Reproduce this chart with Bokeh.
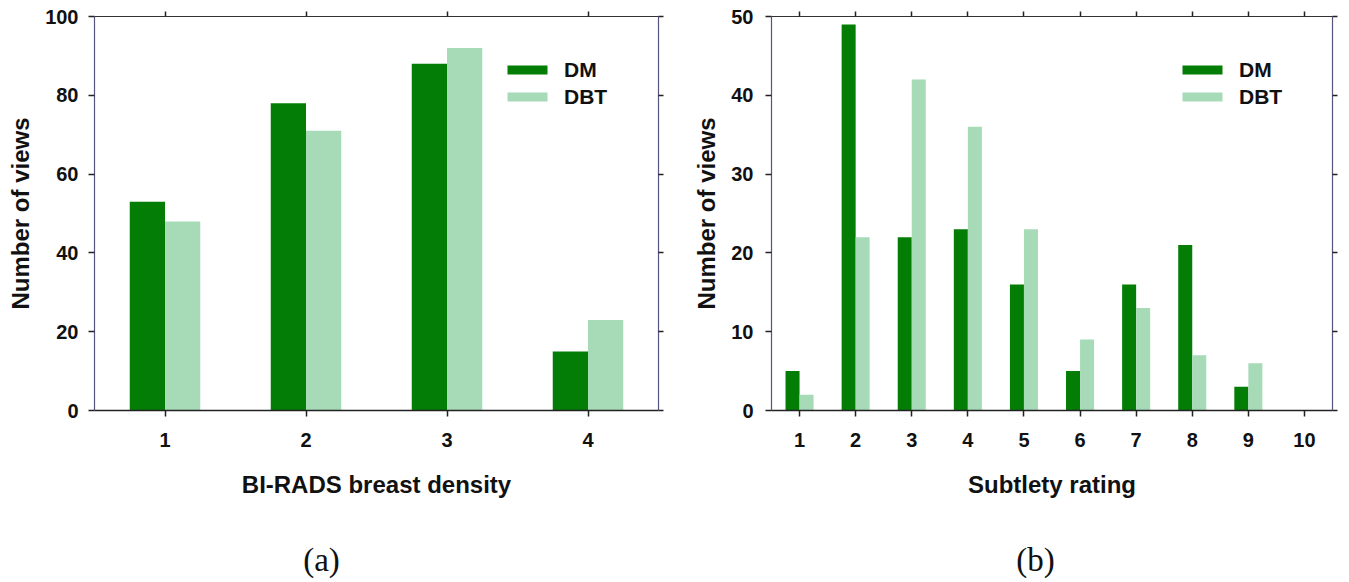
from bokeh.plotting import figure
from bokeh.models import (ColumnDataSource, Range1d, FixedTicker, LinearAxis,
                          Legend, LegendItem, Label, CustomLabelingPolicy)
from bokeh.transform import dodge
from bokeh.layouts import row, column
from bokeh.embed import file_html
from bokeh.resources import INLINE

# ---- data ----
density_cats = [1, 2, 3, 4]
density_dm = [53, 78, 88, 15]
density_dbt = [48, 71, 92, 23]
density_yticks = [0, 20, 40, 60, 80, 100]

subtlety_cats = [1, 2, 3, 4, 5, 6, 7, 8, 9, 10]
subtlety_dm = [5, 49, 22, 23, 16, 5, 16, 21, 3, 0]
subtlety_dbt = [2, 22, 42, 36, 23, 9, 13, 7, 6, 0]
subtlety_yticks = [0, 10, 20, 30, 40, 50]

series_names = ["DM", "DBT"]
captions = ["(a)", "(b)"]
DM_COLOR = "#037d05"
DBT_COLOR = "#a7dbb8"
FONT = "Liberation Sans"
SIDE_COLOR = "#55557f"

NO_LABELS = CustomLabelingPolicy(code="""
for (const i of indices) { indices.unset(i) }
return indices
""")


def tick_only_axis(ticker, line_color):
    return LinearAxis(ticker=ticker, major_label_text_font_size="1px",
                      major_label_policy=NO_LABELS,
                      major_label_standoff=0, major_tick_out=5, major_tick_in=0,
                      minor_tick_out=0, minor_tick_in=0,
                      axis_line_color=line_color, axis_line_width=1.2,
                      major_tick_line_color="#222222", major_tick_line_width=1.5)


def make_panel(cats, dm, dbt, yticks, xlabel, width, left_border,
               right_border, ylabel_standoff, tick_standoff, legend_x):
    src = ColumnDataSource(dict(x=cats, dm=dm, dbt=dbt))
    p = figure(width=width, height=520, output_backend="svg",
               toolbar_location=None,
               x_range=Range1d(cats[0] - 0.5, cats[-1] + 0.5),
               y_range=Range1d(yticks[0], yticks[-1]),
               min_border_left=left_border, min_border_right=right_border,
               min_border_top=16, min_border_bottom=110)
    p.outline_line_color = None
    p.xgrid.visible = False
    p.ygrid.visible = False
    p.background_fill_color = "white"

    r1 = p.vbar(x=dodge("x", -0.125), top="dm", width=0.25, source=src,
                fill_color=DM_COLOR, line_color=None)
    r2 = p.vbar(x=dodge("x", 0.125), top="dbt", width=0.25, source=src,
                fill_color=DBT_COLOR, line_color=None)

    xt = FixedTicker(ticks=cats, minor_ticks=[])
    yt = FixedTicker(ticks=yticks, minor_ticks=[])

    xa = p.xaxis[0]
    xa.ticker = xt
    xa.axis_label = xlabel
    xa.axis_label_text_font = FONT
    xa.axis_label_text_font_style = "bold"
    xa.axis_label_text_font_size = "24px"
    xa.axis_label_text_color = "#111111"
    xa.axis_label_standoff = 21
    xa.major_label_text_font = FONT
    xa.major_label_text_font_style = "bold"
    xa.major_label_text_font_size = "20px"
    xa.major_label_text_color = "#111111"
    xa.major_label_standoff = 16
    xa.major_tick_out = 6
    xa.major_tick_in = 0
    xa.minor_tick_out = 0
    xa.minor_tick_in = 0
    xa.axis_line_color = "#222222"
    xa.axis_line_width = 1.5
    xa.major_tick_line_color = "#222222"
    xa.major_tick_line_width = 1.5

    ya = p.yaxis[0]
    ya.ticker = yt
    ya.axis_label = "Number of views"
    ya.axis_label_text_font = FONT
    ya.axis_label_text_font_style = "bold"
    ya.axis_label_text_font_size = "24px"
    ya.axis_label_text_color = "#111111"
    ya.axis_label_standoff = ylabel_standoff
    ya.major_label_text_font = FONT
    ya.major_label_text_font_style = "bold"
    ya.major_label_text_font_size = "20px"
    ya.major_label_text_color = "#111111"
    ya.major_label_standoff = tick_standoff
    ya.major_tick_out = 6
    ya.major_tick_in = 0
    ya.minor_tick_out = 0
    ya.minor_tick_in = 0
    ya.axis_line_color = SIDE_COLOR
    ya.axis_line_width = 1.2
    ya.major_tick_line_color = "#222222"
    ya.major_tick_line_width = 1.5

    p.add_layout(tick_only_axis(xt, "#333333"), "above")
    p.add_layout(tick_only_axis(yt, SIDE_COLOR), "right")

    legend = Legend(items=[LegendItem(label=series_names[0], renderers=[r1]),
                           LegendItem(label=series_names[1], renderers=[r2])],
                    location=(legend_x, 300), glyph_width=50, glyph_height=11,
                    label_standoff=12, label_height=27, spacing=0, padding=0,
                    margin=0, border_line_color=None, background_fill_alpha=0,
                    label_text_font=FONT, label_text_font_style="bold",
                    label_text_font_size="21px", label_text_color="#111111")
    p.add_layout(legend)
    return p


def make_caption(text, width, cx):
    c = figure(width=width, height=60, output_backend="svg",
               toolbar_location=None, x_range=Range1d(0, 1),
               y_range=Range1d(0, 1), min_border=0)
    c.axis.visible = False
    c.grid.visible = False
    c.outline_line_color = None
    c.add_layout(Label(text=text, x=cx, y=21, x_units="screen",
                       y_units="screen", text_align="center",
                       text_baseline="middle", text_font="Liberation Serif",
                       text_font_style="normal", text_font_size="33px",
                       text_color="#111111"))
    return c


p1 = make_panel(density_cats, density_dm, density_dbt, density_yticks,
                "BI-RADS breast density", width=688, left_border=94,
                right_border=30, ylabel_standoff=8, tick_standoff=10,
                legend_x=408)
p2 = make_panel(subtlety_cats, subtlety_dm, subtlety_dbt, subtlety_yticks,
                "Subtlety rating", width=653, left_border=83,
                right_border=7, ylabel_standoff=8, tick_standoff=12,
                legend_x=406)
c1 = make_caption(captions[0], 688, 321)
c2 = make_caption(captions[1], 653, 347)

layout = column(row(p1, p2), row(c1, c2))
open("out.html", "w").write(file_html(layout, INLINE))
